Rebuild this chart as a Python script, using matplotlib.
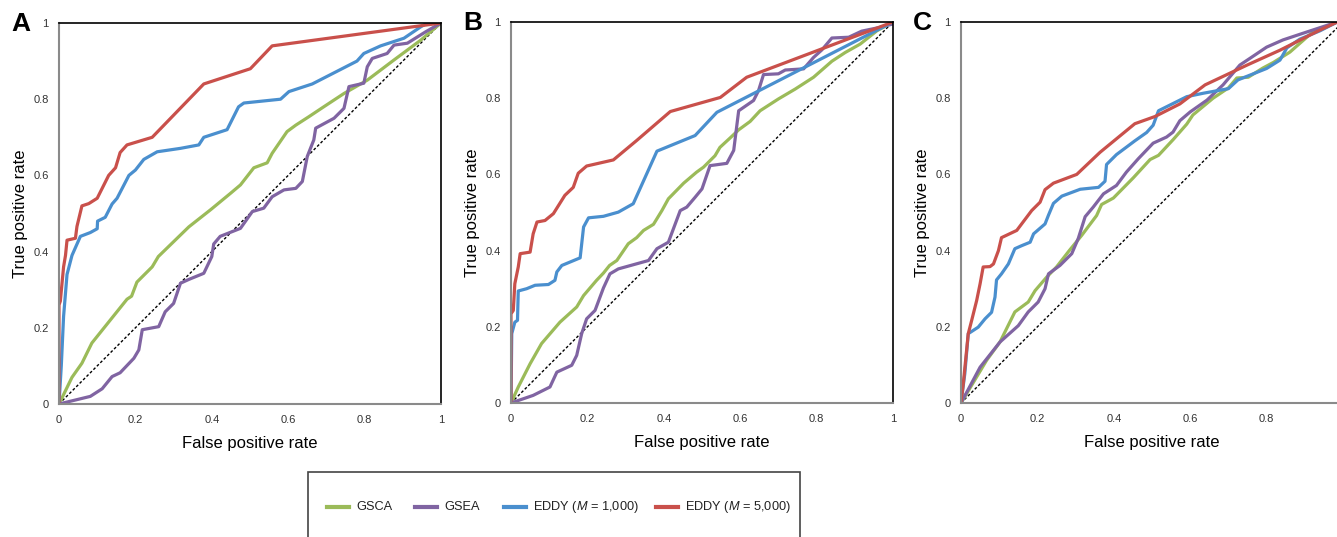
# coding: utf-8
import matplotlib
matplotlib.use("Agg")
import matplotlib.pyplot as plt
from matplotlib.patches import Rectangle
from matplotlib.lines import Line2D
from matplotlib.ticker import FixedLocator

plt.rcParams['font.family'] = ['Liberation Sans', 'DejaVu Sans']
plt.rcParams['mathtext.fontset'] = 'custom'
plt.rcParams['mathtext.it'] = 'Liberation Sans:italic'
plt.rcParams['mathtext.rm'] = 'Liberation Sans'

# ROC curves: FPR (x) and TPR (y)
# panel A
A_GSCA_FPR = [0, 0.034, 0.06, 0.086, 0.134, 0.178, 0.19, 0.204, 0.244, 0.26, 0.30, 0.34, 0.397, 0.449, 0.475, 0.51,
              0.545, 0.558, 0.597, 0.62, 0.654, 0.693, 0.746, 0.807, 0.877, 0.947, 1]
A_GSCA_TPR = [0, 0.07, 0.107, 0.16, 0.22, 0.275, 0.283, 0.32, 0.36, 0.387, 0.426, 0.465, 0.51, 0.553, 0.575, 0.62,
              0.633, 0.658, 0.715, 0.732, 0.754, 0.78, 0.815, 0.85, 0.903, 0.955, 1]
A_GSEA_FPR = [0, 0.082, 0.113, 0.139, 0.16, 0.196, 0.209, 0.218, 0.261, 0.278, 0.30, 0.318, 0.34, 0.379, 0.40, 0.405,
              0.422, 0.475, 0.506, 0.536, 0.558, 0.589, 0.62, 0.637, 0.65, 0.667, 0.672, 0.72, 0.746, 0.759, 0.798,
              0.807, 0.82, 0.859, 0.877, 0.912, 0.96, 1]
A_GSEA_TPR = [0, 0.02, 0.04, 0.072, 0.082, 0.12, 0.142, 0.195, 0.203, 0.242, 0.264, 0.317, 0.327, 0.343, 0.387, 0.42,
              0.44, 0.461, 0.505, 0.514, 0.544, 0.562, 0.566, 0.584, 0.65, 0.693, 0.724, 0.75, 0.776, 0.833, 0.842,
              0.885, 0.907, 0.92, 0.942, 0.947, 0.977, 1]
A_M1000_FPR = [0, 0.006, 0.012, 0.021, 0.034, 0.056, 0.082, 0.10, 0.101, 0.121, 0.139, 0.152, 0.183, 0.20, 0.222,
               0.257, 0.318, 0.366, 0.379, 0.44, 0.47, 0.484, 0.58, 0.602, 0.663, 0.78, 0.798, 0.842, 0.903, 0.947,
               0.964, 1]
A_M1000_TPR = [0, 0.10, 0.23, 0.34, 0.39, 0.44, 0.45, 0.46, 0.48, 0.49, 0.525, 0.54, 0.60, 0.614, 0.642, 0.662,
               0.671, 0.68, 0.70, 0.72, 0.78, 0.79, 0.80, 0.82, 0.84, 0.90, 0.92, 0.94, 0.96, 0.99, 1.0, 1.0]
A_M5000_FPR = [0, 0, 0.0035, 0.012, 0.017, 0.021, 0.043, 0.047, 0.06, 0.078, 0.10, 0.13, 0.148, 0.16, 0.178, 0.244,
               0.379, 0.501, 0.558, 1]
A_M5000_TPR = [0, 0.26, 0.27, 0.36, 0.39, 0.43, 0.435, 0.466, 0.52, 0.526, 0.54, 0.60, 0.62, 0.66, 0.68, 0.70,
               0.84, 0.88, 0.94, 1]

# panel B
B_GSCA_FPR = [0, 0.019, 0.05, 0.08, 0.128, 0.172, 0.19, 0.224, 0.242, 0.258, 0.277, 0.307, 0.329, 0.347, 0.373,
              0.395, 0.412, 0.452, 0.486, 0.504, 0.534, 0.547, 0.574, 0.596, 0.626, 0.652, 0.70, 0.744, 0.792, 0.84,
              0.875, 0.914, 0.958, 1]
B_GSCA_TPR = [0, 0.042, 0.103, 0.156, 0.212, 0.252, 0.282, 0.322, 0.341, 0.361, 0.374, 0.418, 0.434, 0.453, 0.469,
              0.505, 0.536, 0.577, 0.606, 0.619, 0.649, 0.671, 0.696, 0.717, 0.739, 0.767, 0.798, 0.824, 0.855, 0.897,
              0.92, 0.942, 0.977, 1]
B_GSEA_FPR = [0, 0.058, 0.102, 0.12, 0.159, 0.172, 0.185, 0.198, 0.22, 0.242, 0.259, 0.281, 0.36, 0.382, 0.412,
              0.443, 0.46, 0.482, 0.50, 0.521, 0.565, 0.583, 0.596, 0.635, 0.648, 0.661, 0.70, 0.718, 0.766, 0.792,
              0.814, 0.84, 0.884, 0.918, 0.966, 1]
B_GSEA_TPR = [0, 0.02, 0.042, 0.081, 0.099, 0.125, 0.182, 0.221, 0.243, 0.302, 0.339, 0.352, 0.374, 0.405, 0.422,
              0.505, 0.514, 0.54, 0.562, 0.623, 0.629, 0.663, 0.767, 0.794, 0.82, 0.862, 0.864, 0.874, 0.877, 0.907,
              0.927, 0.958, 0.96, 0.976, 0.986, 0.995]
B_M1000_FPR = [0, 0.002, 0.01, 0.017, 0.019, 0.041, 0.063, 0.098, 0.115, 0.12, 0.133, 0.181, 0.19, 0.203, 0.242,
               0.281, 0.32, 0.382, 0.482, 0.539, 1]
B_M1000_TPR = [0, 0.182, 0.212, 0.217, 0.294, 0.30, 0.309, 0.311, 0.322, 0.344, 0.361, 0.381, 0.462, 0.486, 0.49,
               0.501, 0.523, 0.661, 0.702, 0.763, 1]
B_M5000_FPR = [0, 0, 0.006, 0.01, 0.019, 0.024, 0.05, 0.058, 0.068, 0.089, 0.111, 0.141, 0.163, 0.176, 0.198, 0.268,
               0.329, 0.417, 0.548, 0.617, 1]
B_M5000_TPR = [0, 0.234, 0.243, 0.313, 0.357, 0.392, 0.396, 0.444, 0.475, 0.479, 0.497, 0.545, 0.566, 0.603, 0.622,
               0.638, 0.689, 0.765, 0.802, 0.855, 1]

# panel C
C_GSCA_FPR = [0, 0.067, 0.102, 0.141, 0.176, 0.194, 0.224, 0.25, 0.285, 0.316, 0.355, 0.368, 0.399, 0.451, 0.495,
              0.517, 0.556, 0.591, 0.607, 0.66, 0.70, 0.722, 0.752, 0.79, 0.818, 0.861, 0.921, 0.985]
C_GSCA_TPR = [0, 0.112, 0.16, 0.239, 0.265, 0.295, 0.33, 0.357, 0.402, 0.44, 0.492, 0.521, 0.538, 0.591, 0.639,
              0.65, 0.692, 0.732, 0.756, 0.80, 0.827, 0.853, 0.855, 0.879, 0.894, 0.921, 0.974, 1]
C_GSEA_FPR = [0, 0.05, 0.102, 0.15, 0.176, 0.202, 0.22, 0.229, 0.259, 0.29, 0.307, 0.325, 0.346, 0.373, 0.407,
              0.433, 0.464, 0.503, 0.538, 0.555, 0.573, 0.60, 0.644, 0.686, 0.73, 0.757, 0.80, 0.843, 0.906, 0.985]
C_GSEA_TPR = [0, 0.094, 0.16, 0.203, 0.239, 0.265, 0.30, 0.339, 0.361, 0.392, 0.432, 0.489, 0.514, 0.549, 0.571,
              0.606, 0.641, 0.682, 0.698, 0.711, 0.741, 0.764, 0.795, 0.835, 0.887, 0.905, 0.934, 0.953, 0.974, 1]
C_M1000_FPR = [0, 0.01, 0.019, 0.045, 0.063, 0.08, 0.089, 0.093, 0.106, 0.124, 0.141, 0.159, 0.181, 0.19, 0.22,
               0.229, 0.242, 0.264, 0.312, 0.36, 0.377, 0.381, 0.407, 0.455, 0.486, 0.503, 0.517, 0.591, 0.634, 0.70,
               0.725, 0.765, 0.80, 0.835, 0.853, 0.887, 0.94, 0.985]
C_M1000_TPR = [0, 0.077, 0.182, 0.199, 0.221, 0.238, 0.278, 0.323, 0.339, 0.365, 0.405, 0.413, 0.422, 0.444, 0.47,
               0.493, 0.524, 0.543, 0.561, 0.566, 0.582, 0.626, 0.652, 0.688, 0.71, 0.729, 0.767, 0.804, 0.813,
               0.825, 0.848, 0.864, 0.878, 0.90, 0.932, 0.955, 0.977, 1]
C_M5000_FPR = [0, 0.006, 0.019, 0.028, 0.041, 0.05, 0.058, 0.076, 0.085, 0.098, 0.106, 0.146, 0.185, 0.207, 0.22,
               0.242, 0.303, 0.364, 0.455, 0.508, 0.573, 0.639, 0.749, 0.835, 0.94, 0.985]
C_M5000_TPR = [0, 0.051, 0.182, 0.217, 0.269, 0.313, 0.357, 0.358, 0.365, 0.40, 0.434, 0.453, 0.505, 0.527, 0.56,
               0.577, 0.60, 0.658, 0.733, 0.752, 0.785, 0.835, 0.887, 0.926, 0.979, 1]

panels = ["A", "B", "C"]
series = {
    "A": [(A_GSCA_FPR, A_GSCA_TPR), (A_GSEA_FPR, A_GSEA_TPR), (A_M1000_FPR, A_M1000_TPR), (A_M5000_FPR, A_M5000_TPR)],
    "B": [(B_GSCA_FPR, B_GSCA_TPR), (B_GSEA_FPR, B_GSEA_TPR), (B_M1000_FPR, B_M1000_TPR), (B_M5000_FPR, B_M5000_TPR)],
    "C": [(C_GSCA_FPR, C_GSCA_TPR), (C_GSEA_FPR, C_GSEA_TPR), (C_M1000_FPR, C_M1000_TPR), (C_M5000_FPR, C_M5000_TPR)],
}
labels = ["GSCA", "GSEA", "EDDY ($\\mathit{M}$ = 1,000)", "EDDY ($\\mathit{M}$ = 5,000)"]
colors = ["#9BBB59", "#8064A2", "#4A8FCE", "#C9504B"]
ticks = [0, 0.2, 0.4, 0.6, 0.8, 1]
tick_labels = ["0", "0.2", "0.4", "0.6", "0.8", "1"]

W, H = 1337, 537
fig = plt.figure(figsize=(W / 100, H / 100), dpi=100)

# axes boxes in pixels (left, top, right, bottom); panel C runs past the right edge
boxes = {"A": (59, 23, 441, 404), "B": (511, 22, 893, 403), "C": (961, 22, 1343, 403)}

for p in panels:
    l, t, r, b = boxes[p]
    ax = fig.add_axes([l / W, 1 - b / H, (r - l) / W, (b - t) / H])
    ax.plot([0, 1], [0, 1], color="black", lw=1, linestyle=(0, (2, 1.5)), zorder=1)
    for (x, y), c in zip(series[p], colors):
        ax.plot(x, y, color=c, lw=2.3, solid_joinstyle="round", zorder=2)
    ax.set_xlim(0, 1)
    ax.set_ylim(0, 1)
    # the "1" of panel C falls outside the picture, as in the original
    xt = ticks if p != "C" else ticks[:-1]
    ax.xaxis.set_major_locator(FixedLocator(xt))
    ax.yaxis.set_major_locator(FixedLocator(ticks))
    ax.set_xticklabels(tick_labels[:len(xt)])
    ax.set_yticklabels(tick_labels)
    ax.tick_params(length=0, labelsize=8, colors="#333333", pad=8)
    ax.tick_params(axis="y", pad=7.5)
    ax.set_xlabel("False positive rate", fontsize=12, labelpad=8)
    ax.set_ylabel("True positive rate", fontsize=12, labelpad=4)
    for s in ["left", "bottom"]:
        ax.spines[s].set_color("#8a8a8a")
        ax.spines[s].set_linewidth(1.5)
    for s in ["top", "right"]:
        ax.spines[s].set_color("black")
        ax.spines[s].set_linewidth(1.2)
    ax.text(-0.1, 0.997, p, transform=ax.transAxes, fontsize=19, fontweight="bold",
            ha="center", va="center")

# legend box at the bottom, entries placed one by one
fig.patches.append(Rectangle((308 / W, -0.05), (800 - 308) / W, 0.05 + (537 - 472) / H,
                             transform=fig.transFigure, facecolor="white", edgecolor="#444444", lw=1.2))
entry_x = [327, 415, 504, 656]
ly = 1 - 507 / H
for ex, lab, c in zip(entry_x, labels, colors):
    fig.add_artist(Line2D([ex / W, (ex + 22) / W], [ly, ly], transform=fig.transFigure, color=c, lw=3))
    fig.text((ex + 29) / W, ly, lab, fontsize=9.2, color="#222222", ha="left", va="center")

fig.savefig("out.png", dpi=100)
